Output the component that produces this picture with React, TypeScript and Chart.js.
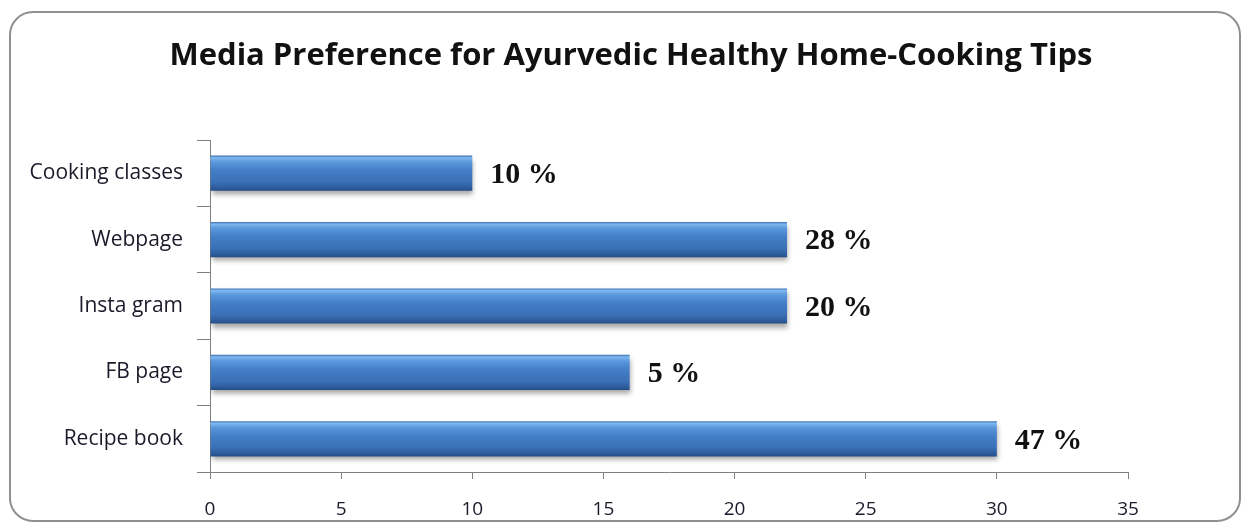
import React, { useEffect, useRef } from "react";
import { Chart, registerables } from "chart.js";

Chart.register(...registerables);

const categories = ["Cooking classes", "Webpage", "Insta gram", "FB page", "Recipe book"];
const barValues = [10, 22, 22, 16, 30];
const percentLabels = ["10 %", "28 %", "20 %", "5 %", "47 %"];
const xTicks = [0, 5, 10, 15, 20, 25, 30, 35];
const chartTitle = "Media Preference for Ayurvedic Healthy Home-Cooking Tips";

const BAR_PCT = 0.53;
const SANS = "'Open Sans', Lato, sans-serif";

export default function App() {
  const canvasRef = useRef<HTMLCanvasElement | null>(null);

  useEffect(() => {
    const canvas = canvasRef.current;
    if (!canvas) return;

    const shadowPlugin = {
      id: "barShadow",
      beforeDatasetsDraw(chart: any) {
        const ctx = chart.ctx;
        ctx.save();
        ctx.shadowColor = "rgba(0,0,0,0.35)";
        ctx.shadowBlur = 5;
        ctx.shadowOffsetX = 1;
        ctx.shadowOffsetY = 4;
      },
      afterDatasetsDraw(chart: any) {
        chart.ctx.restore();
      },
    };

    const textPlugin = {
      id: "texts",
      afterDraw(chart: any) {
        const ctx = chart.ctx;
        const meta = chart.getDatasetMeta(0);
        ctx.save();
        ctx.font = "bold 30px 'Liberation Serif', 'DejaVu Serif', serif";
        ctx.fillStyle = "#111";
        ctx.textAlign = "left";
        ctx.textBaseline = "middle";
        meta.data.forEach((bar: any, i: number) => {
          ctx.fillText(percentLabels[i], bar.x + 18, bar.y + 2);
        });
        ctx.font = "bold 31px " + SANS;
        ctx.textAlign = "center";
        ctx.fillStyle = "#111";
        ctx.fillText(chartTitle, 631, 56);
        ctx.restore();
      },
    };

    const chart = new Chart(canvas, {
      type: "bar",
      data: {
        labels: categories,
        datasets: [
          {
            data: barValues,
            barPercentage: BAR_PCT,
            categoryPercentage: 1,
            borderWidth: 0,
            backgroundColor: (c: any) => {
              const ch = c.chart;
              const ys = ch.scales && ch.scales.y;
              if (!ys || !ch.chartArea) return "#3d74bb";
              const center = ys.getPixelForValue(c.dataIndex);
              const th = (ys.height / categories.length) * BAR_PCT;
              const top = center - th / 2;
              const g = ch.ctx.createLinearGradient(0, top, 0, top + th);
              g.addColorStop(0, "#3b6eb2");
              g.addColorStop(0.06, "#80b9f0");
              g.addColorStop(0.18, "#5a98dc");
              g.addColorStop(0.4, "#4580c8");
              g.addColorStop(0.75, "#3a70b6");
              g.addColorStop(0.92, "#2d5c9c");
              g.addColorStop(1, "#244c84");
              return g;
            },
          },
        ],
      },
      options: {
        indexAxis: "y",
        animation: false,
        responsive: false,
        maintainAspectRatio: false,
        layout: { padding: { top: 140, left: 10, right: 116, bottom: 0 } },
        plugins: {
          legend: { display: false },
          tooltip: { enabled: false },
          title: { display: false },
        },
        scales: {
          x: {
            type: "linear",
            min: 0,
            max: 35,
            afterBuildTicks: (s: any) => {
              s.ticks = xTicks.map((v) => ({ value: v }));
            },
            afterFit: (s: any) => {
              s.height = 50;
            },
            grid: {
              drawOnChartArea: false,
              drawTicks: true,
              tickLength: 7,
              color: "#808080",
            },
            border: { display: true, color: "#808080", width: 1 },
            ticks: {
              color: "#1a1a2a",
              padding: 19,
              font: { family: SANS, size: 19 },
            },
          },
          y: {
            type: "category",
            afterFit: (s: any) => {
              s.width = 200;
            },
            grid: {
              drawOnChartArea: false,
              drawTicks: true,
              tickLength: 13,
              offset: true,
              color: "#808080",
            },
            border: { display: true, color: "#808080", width: 1 },
            ticks: {
              color: "#1a1a2a",
              padding: 14,
              font: { family: SANS, size: 21 },
            },
          },
        },
      },
      plugins: [shadowPlugin, textPlugin],
    } as any);

    return () => chart.destroy();
  }, []);

  return (
    <div style={{ position: "fixed", left: 0, top: 0, width: 1244, height: 522, background: "#fff" }}>
      <div
        style={{
          position: "absolute",
          left: 9,
          top: 11,
          width: 1232,
          height: 511,
          border: "2px solid #909090",
          borderRadius: 24,
          boxSizing: "border-box",
        }}
      />
      <canvas ref={canvasRef} width={1244} height={522} style={{ position: "absolute", left: 0, top: 0 }} />
    </div>
  );
}
